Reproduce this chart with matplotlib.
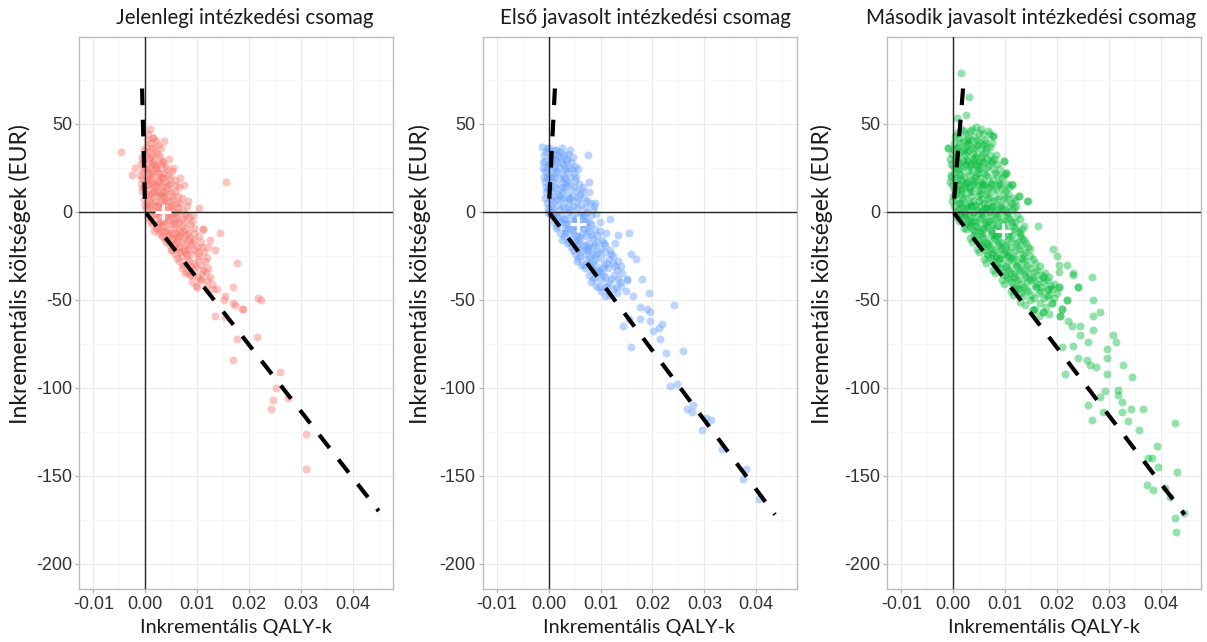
import matplotlib.pyplot as plt
from matplotlib.ticker import MultipleLocator

plt.rcParams["font.family"] = ["Liberation Sans", "DejaVu Sans"]
plt.rcParams["axes.unicode_minus"] = False

# --- data ---------------------------------------------------------------
titles = ["Jelenlegi intézkedési csomag",
          "Első javasolt intézkedési csomag",
          "Második javasolt intézkedési csomag"]
xlabel = "Inkrementális QALY-k"
ylabel = "Inkrementális költségek (EUR)"
colors = ["#F8766D", "#619CFF", "#00BA38"]

# (incremental QALY, incremental cost) per simulation, panel 1
points_1 = [
    (0.0006, 44), (0.0015, 42), (0.0010, 47), (0.0037, 40), (0.0016, 42),
    (0.0002, 37), (0.0009, 39), (0.0016, 36), (0.0024, 38), (-0.0003, 35), (0.0030, 36),
    (-0.0007, 31), (0.0000, 33), (0.0008, 30), (0.0014, 32), (0.0021, 34), (0.0028, 31),
    (0.0033, 29), (0.0045, 30),
    (-0.0009, 27), (-0.0002, 25), (0.0005, 28), (0.0011, 26), (0.0017, 29), (0.0023, 25),
    (0.0030, 27), (0.0038, 26), (0.0054, 25),
    (-0.0010, 21), (-0.0004, 23), (0.0003, 20), (0.0010, 24), (0.0016, 21), (0.0022, 23),
    (0.0029, 20), (0.0036, 22), (0.0044, 21), (0.0051, 23), (-0.0026, 21), (-0.0019, 25),
    (-0.0008, 16), (-0.0001, 18), (0.0006, 15), (0.0012, 19), (0.0019, 16), (0.0026, 18),
    (0.0033, 15), (0.0040, 17), (0.0048, 16), (0.0057, 18), (0.0067, 19),
    (-0.0006, 12), (0.0001, 10), (0.0008, 13), (0.0015, 11), (0.0021, 14), (0.0028, 10),
    (0.0035, 12), (0.0042, 13), (0.0050, 11), (0.0058, 12), (0.0066, 14), (0.0074, 15),
    (-0.0003, 7), (0.0004, 5), (0.0011, 8), (0.0018, 6), (0.0025, 9), (0.0032, 5),
    (0.0039, 8), (0.0046, 6), (0.0053, 7), (0.0061, 5), (0.0070, 8), (0.0083, 6),
    (0.0001, 2), (0.0008, 4), (0.0015, 1), (0.0022, 3), (0.0029, 0), (0.0036, 4),
    (0.0043, 1), (0.0050, 3), (0.0057, 0), (0.0064, 2), (0.0072, 1), (0.0080, 3), (0.0103, 2),
    (0.0006, -3), (0.0013, -1), (0.0020, -4), (0.0027, -2), (0.0034, -5), (0.0041, -1),
    (0.0048, -3), (0.0055, -5), (0.0062, -2), (0.0070, -4), (0.0078, -1), (0.0085, -3), (0.0093, -2),
    (0.0014, -7), (0.0021, -9), (0.0028, -6), (0.0035, -8), (0.0042, -10), (0.0049, -7),
    (0.0056, -9), (0.0063, -6), (0.0070, -8), (0.0078, -10), (0.0086, -7), (0.0094, -9), (0.0112, -10),
    (0.0026, -12), (0.0033, -14), (0.0039, -11), (0.0046, -13), (0.0052, -15), (0.0058, -12),
    (0.0065, -14), (0.0072, -11), (0.0079, -13), (0.0087, -15), (0.0095, -12), (0.0103, -14), (0.0144, -12),
    (0.0040, -17), (0.0047, -19), (0.0053, -16), (0.0059, -18), (0.0065, -20), (0.0071, -17),
    (0.0077, -19), (0.0084, -16), (0.0091, -18), (0.0099, -20), (0.0108, -17), (0.0125, -16), (0.0122, -20),
    (0.0052, -22), (0.0058, -24), (0.0064, -21), (0.0070, -25), (0.0076, -23), (0.0082, -21),
    (0.0089, -24), (0.0096, -22), (0.0104, -25), (0.0113, -23), (0.0135, -22),
    (0.0066, -28), (0.0073, -30), (0.0080, -27), (0.0087, -31), (0.0094, -29), (0.0101, -27),
    (0.0108, -30), (0.0116, -28), (0.0122, -32), (0.0176, -29),
    (0.0080, -34), (0.0087, -36), (0.0094, -33), (0.0101, -37), (0.0109, -35), (0.0117, -34), (0.0125, -37),
    (0.0090, -40), (0.0097, -42), (0.0107, -39), (0.0118, -43), (0.0128, -41), (0.0119, -39),
    (0.0099, -43), (0.0138, -44), (0.0170, -43),
    (0.0012, 22), (0.0024, 17), (0.0031, 9), (0.0019, 3), (0.0027, -7), (0.0008, 9),
    (0.0005, 18), (0.0040, -3), (0.0047, 2), (0.0033, 20), (0.0015, 27), (0.0044, -12),
    (0.0058, -7), (0.0062, -16), (0.0017, 12), (0.0026, 0), (0.0038, 11), (0.0052, -1),
    (0.0068, -12), (0.0075, -22),
    (0.0004, 41), (0.0020, 40), (0.0011, 36),
    (-0.0004, 29), (0.0004, 34), (0.0011, 31), (0.0018, 27), (0.0025, 33), (0.0035, 28),
    (-0.0006, 19), (0.0001, 24), (0.0007, 22), (0.0014, 17), (0.0020, 25), (0.0027, 22),
    (0.0034, 19), (0.0041, 24), (0.0047, 19),
    (-0.0004, 14), (0.0003, 16), (0.0010, 10), (0.0017, 15), (0.0023, 11), (0.0030, 14),
    (0.0037, 9), (0.0044, 15), (0.0051, 9), (0.0060, 15), (0.0063, 9),
    (-0.0001, 4), (0.0006, 1), (0.0012, 5), (0.0019, -1), (0.0026, 5), (0.0033, 2),
    (0.0040, 6), (0.0047, -1), (0.0054, 4), (0.0061, 0), (0.0068, 5), (0.0076, -2),
    (0.0010, -5), (0.0017, -11), (0.0024, -9), (0.0031, -11), (0.0037, -6), (0.0045, -5),
    (0.0051, -12), (0.0059, -4), (0.0066, -10), (0.0074, -6), (0.0082, -12), (0.0090, -5),
    (0.0036, -15), (0.0043, -16), (0.0049, -22), (0.0056, -19), (0.0062, -14), (0.0068, -23),
    (0.0074, -15), (0.0080, -24), (0.0087, -19), (0.0095, -16), (0.0101, -23), (0.0110, -20),
    (0.0062, -26), (0.0070, -32), (0.0077, -35), (0.0084, -28), (0.0091, -36), (0.0098, -31),
    (0.0105, -38), (0.0112, -33), (0.0120, -26),
    (-0.0047, 34), (0.0156, 17), (0.0112, -10), (0.0154, -48), (0.0173, -53), (0.0189, -55),
    (0.0218, -49), (0.0223, -50), (0.0186, -55), (0.0170, -52), (0.0151, -50), (0.0135, -59),
    (0.0154, -60), (0.0131, -44), (0.0176, -72), (0.0215, -71), (0.0170, -84), (0.0260, -91),
    (0.0253, -100), (0.0276, -106), (0.0247, -107), (0.0242, -112), (0.0310, -126), (0.0310, -146),
]

points_2 = [
    (-0.0006, 34), (0.0001, 36), (0.0008, 33), (0.0015, 35), (0.0022, 34), (0.0030, 32),
    (0.0038, 33), (0.0046, 31), (-0.0012, 37),
    (-0.0007, 29), (0.0000, 27), (0.0007, 30), (0.0014, 28), (0.0021, 31), (0.0028, 27),
    (0.0035, 29), (0.0043, 28), (0.0050, 26),
    (-0.0008, 23), (-0.0001, 21), (0.0006, 24), (0.0013, 22), (0.0020, 25), (0.0027, 21),
    (0.0034, 23), (0.0041, 20), (0.0049, 22), (0.0057, 24),
    (-0.0007, 17), (0.0000, 15), (0.0007, 18), (0.0014, 16), (0.0021, 19), (0.0028, 14),
    (0.0035, 17), (0.0042, 15), (0.0050, 18), (0.0058, 16), (0.0066, 14),
    (-0.0005, 11), (0.0002, 9), (0.0009, 12), (0.0016, 10), (0.0023, 13), (0.0030, 8),
    (0.0037, 11), (0.0044, 9), (0.0052, 12), (0.0060, 10), (0.0068, 8), (0.0078, 11),
    (-0.0003, 5), (0.0004, 3), (0.0011, 6), (0.0018, 4), (0.0025, 7), (0.0032, 2),
    (0.0039, 5), (0.0046, 3), (0.0054, 6), (0.0062, 4), (0.0070, 2), (0.0079, 5), (0.0087, 3),
    (0.0002, -1), (0.0009, 0), (0.0016, -3), (0.0023, -1), (0.0030, -4), (0.0037, 0),
    (0.0044, -2), (0.0051, -4), (0.0058, -1), (0.0066, -3), (0.0074, 0), (0.0082, -2), (0.0092, -1),
    (0.0010, -6), (0.0017, -8), (0.0024, -5), (0.0031, -9), (0.0038, -7), (0.0045, -10),
    (0.0052, -6), (0.0059, -8), (0.0066, -5), (0.0073, -9), (0.0081, -7), (0.0089, -10), (0.0098, -6),
    (0.0022, -12), (0.0029, -14), (0.0036, -11), (0.0043, -15), (0.0050, -13), (0.0057, -16),
    (0.0064, -12), (0.0071, -14), (0.0078, -11), (0.0086, -15), (0.0094, -13), (0.0102, -16), (0.0111, -12),
    (0.0036, -18), (0.0043, -20), (0.0050, -17), (0.0057, -21), (0.0064, -19), (0.0071, -22),
    (0.0078, -18), (0.0085, -20), (0.0093, -17), (0.0101, -21), (0.0109, -19), (0.0118, -22), (0.0127, -18),
    (0.0050, -24), (0.0057, -26), (0.0064, -23), (0.0071, -27), (0.0078, -25), (0.0085, -28),
    (0.0092, -24), (0.0100, -26), (0.0108, -23), (0.0116, -27), (0.0124, -25), (0.0133, -28),
    (0.0063, -30), (0.0070, -32), (0.0077, -29), (0.0084, -33), (0.0091, -31), (0.0099, -34),
    (0.0107, -30), (0.0115, -32), (0.0123, -29), (0.0131, -33), (0.0140, -31),
    (0.0078, -36), (0.0085, -38), (0.0093, -35), (0.0101, -39), (0.0109, -37), (0.0117, -40),
    (0.0125, -36), (0.0133, -38), (0.0142, -35), (0.0150, -39),
    (0.0092, -42), (0.0100, -45), (0.0108, -43), (0.0116, -47), (0.0124, -44), (0.0132, -46),
    (0.0140, -42), (0.0149, -45), (0.0108, -48),
    (0.0005, 20), (0.0011, 26), (0.0003, 13), (0.0017, 7), (0.0027, 17), (0.0009, -3),
    (0.0020, 1), (0.0034, -4), (0.0042, 8), (0.0048, -8), (0.0056, -14), (0.0062, -2),
    (0.0070, -19), (0.0083, -24), (0.0095, -33), (0.0013, 30), (-0.0004, 25), (-0.0002, 2),
    (0.0031, 25), (0.0072, -6),
    (-0.0009, 32), (-0.0003, 36), (0.0004, 31), (0.0011, 35), (0.0018, 32), (0.0025, 36),
    (0.0033, 30), (0.0041, 35), (-0.0010, 28),
    (-0.0010, 25), (-0.0004, 19), (0.0003, 27), (0.0010, 20), (0.0017, 23), (0.0024, 28),
    (0.0031, 19), (0.0038, 25), (0.0045, 24), (0.0053, 20), (-0.0009, 20), (-0.0006, 14),
    (-0.0008, 8), (-0.0002, 13), (0.0005, 7), (0.0012, 14), (0.0019, 9), (0.0026, 11),
    (0.0033, 15), (0.0040, 7), (0.0048, 14), (0.0056, 8), (0.0064, 12), (0.0073, 6),
    (-0.0001, 0), (0.0006, 2), (0.0013, -2), (0.0020, -6), (0.0027, 3), (0.0034, -7),
    (0.0041, 1), (0.0048, -5), (0.0055, 2), (0.0063, -7), (0.0070, -2), (0.0078, -6), (0.0086, 1),
    (0.0014, -9), (0.0025, -16), (0.0032, -12), (0.0040, -17), (0.0047, -11), (0.0054, -19),
    (0.0061, -15), (0.0068, -10), (0.0075, -20), (0.0082, -13), (0.0090, -19), (0.0098, -11),
    (0.0106, -18),
    (0.0046, -22), (0.0054, -28), (0.0061, -25), (0.0068, -30), (0.0075, -22), (0.0082, -31),
    (0.0089, -27), (0.0096, -23), (0.0104, -32), (0.0112, -29), (0.0120, -24), (0.0128, -31),
    (0.0081, -40), (0.0089, -37), (0.0097, -43), (0.0105, -36), (0.0113, -42), (0.0121, -38),
    (0.0129, -43), (0.0137, -40),
    (0.0076, 32), (0.0078, 17), (0.0090, 5), (0.0118, -4), (0.0155, -12), (0.0134, -13),
    (0.0159, -24), (0.0169, -27), (0.0179, -38), (0.0151, -38), (0.0194, -46), (0.0163, -48),
    (0.0242, -53), (0.0176, -54), (0.0189, -55), (0.0195, -57), (0.0175, -61), (0.0154, -61),
    (0.0144, -65), (0.0195, -62), (0.0218, -64), (0.0213, -66), (0.0201, -68), (0.0215, -72),
    (0.0159, -77), (0.0226, -80), (0.0259, -79), (0.0234, -99), (0.0247, -98), (0.0266, -112),
    (0.0279, -110), (0.0276, -114), (0.0295, -124), (0.0312, -118), (0.0304, -117),
    (0.0333, -135), (0.0381, -146), (0.0374, -152), (0.0405, -163),
]

points_3 = [
    (0.0008, 45), (0.0016, 47), (0.0024, 44), (0.0032, 46), (0.0040, 43), (0.0049, 45),
    (0.0058, 44), (0.0067, 46), (0.0076, 43), (0.0012, 42), (0.0044, 48),
    (0.0002, 39), (0.0010, 37), (0.0018, 40), (0.0026, 38), (0.0034, 41), (0.0042, 37),
    (0.0050, 40), (0.0058, 38), (0.0066, 36), (0.0074, 39), (-0.0010, 36),
    (-0.0002, 33), (0.0006, 31), (0.0014, 34), (0.0022, 32), (0.0030, 35), (0.0038, 30),
    (0.0046, 33), (0.0054, 31), (0.0062, 34), (0.0070, 32), (0.0079, 30), (0.0098, 29),
    (-0.0004, 27), (0.0004, 25), (0.0012, 28), (0.0020, 26), (0.0028, 29), (0.0036, 24),
    (0.0044, 27), (0.0052, 25), (0.0060, 28), (0.0068, 26), (0.0076, 24), (0.0085, 27),
    (-0.0004, 21), (0.0004, 19), (0.0012, 22), (0.0020, 20), (0.0028, 23), (0.0036, 18),
    (0.0044, 21), (0.0052, 19), (0.0060, 22), (0.0068, 20), (0.0076, 18), (0.0085, 21),
    (0.0094, 19), (0.0102, 22),
    (-0.0003, 15), (0.0005, 13), (0.0013, 16), (0.0021, 14), (0.0029, 17), (0.0037, 12),
    (0.0045, 15), (0.0053, 13), (0.0061, 16), (0.0069, 14), (0.0077, 12), (0.0086, 15),
    (0.0095, 13), (0.0104, 16), (0.0113, 15),
    (-0.0001, 9), (0.0007, 7), (0.0015, 10), (0.0023, 8), (0.0031, 11), (0.0039, 6),
    (0.0047, 9), (0.0055, 7), (0.0063, 10), (0.0071, 8), (0.0079, 6), (0.0088, 9),
    (0.0097, 7), (0.0106, 10), (0.0115, 8), (0.0126, 9),
    (0.0001, 3), (0.0009, 1), (0.0017, 4), (0.0025, 2), (0.0033, 5), (0.0041, 0),
    (0.0049, 3), (0.0057, 1), (0.0065, 4), (0.0073, 2), (0.0081, 0), (0.0090, 3),
    (0.0099, 1), (0.0108, 4), (0.0117, 2), (0.0144, 6),
    (0.0008, -3), (0.0016, -1), (0.0024, -4), (0.0032, -2), (0.0040, -5), (0.0048, -1),
    (0.0056, -3), (0.0064, -6), (0.0072, -2), (0.0080, -4), (0.0088, -1), (0.0096, -5),
    (0.0105, -3), (0.0114, -6), (0.0123, -2),
    (0.0020, -9), (0.0028, -7), (0.0036, -10), (0.0044, -8), (0.0052, -11), (0.0060, -7),
    (0.0068, -9), (0.0076, -12), (0.0084, -8), (0.0092, -10), (0.0101, -7), (0.0110, -11),
    (0.0119, -9), (0.0128, -12), (0.0137, -8), (0.0164, -8),
    (0.0032, -15), (0.0040, -13), (0.0048, -16), (0.0056, -14), (0.0064, -17), (0.0072, -13),
    (0.0080, -15), (0.0088, -18), (0.0096, -14), (0.0105, -16), (0.0114, -13), (0.0123, -17),
    (0.0132, -15), (0.0141, -18),
    (0.0046, -21), (0.0054, -19), (0.0062, -22), (0.0070, -20), (0.0078, -23), (0.0086, -19),
    (0.0094, -21), (0.0103, -24), (0.0112, -20), (0.0121, -22), (0.0130, -19), (0.0139, -23),
    (0.0148, -21), (0.0193, -21),
    (0.0060, -27), (0.0068, -25), (0.0076, -28), (0.0085, -26), (0.0094, -29), (0.0103, -25),
    (0.0112, -27), (0.0121, -30), (0.0130, -26), (0.0139, -28), (0.0148, -25), (0.0158, -29),
    (0.0201, -25),
    (0.0076, -33), (0.0085, -31), (0.0094, -34), (0.0103, -32), (0.0112, -35), (0.0121, -31),
    (0.0130, -33), (0.0139, -36), (0.0148, -32), (0.0157, -34), (0.0167, -31), (0.0177, -35),
    (0.0203, -34), (0.0219, -30),
    (0.0094, -39), (0.0103, -37), (0.0112, -40), (0.0121, -38), (0.0130, -41), (0.0139, -37),
    (0.0148, -39), (0.0157, -42), (0.0166, -38), (0.0175, -40), (0.0184, -37), (0.0194, -41),
    (0.0203, -43), (0.0231, -35),
    (0.0112, -45), (0.0121, -43), (0.0130, -46), (0.0140, -44), (0.0150, -47), (0.0160, -43),
    (0.0170, -45), (0.0180, -48), (0.0190, -44), (0.0200, -46), (0.0241, -43), (0.0183, -44),
    (0.0128, -51), (0.0138, -53), (0.0148, -50), (0.0158, -55), (0.0168, -52), (0.0178, -54),
    (0.0190, -52), (0.0154, -56), (0.0174, -57), (0.0219, -50),
    (0.0165, -59), (0.0185, -58), (0.0206, -59), (0.0209, -55),
    (0.0003, 30), (0.0009, 24), (0.0015, 18), (0.0019, 35), (0.0025, 27), (0.0031, 14),
    (0.0007, 11), (0.0013, 5), (0.0022, -2), (0.0035, -6), (0.0043, 20), (0.0049, 6),
    (0.0058, -10), (0.0066, -18), (0.0074, -24), (0.0027, 40), (0.0039, 33), (0.0047, 24),
    (0.0055, 16), (0.0063, 2), (0.0016, 13), (0.0034, 3), (0.0011, -1), (0.0071, -5),
    (0.0082, -14), (0.0091, -26), (0.0101, -31), (0.0118, -35),
    (0.0004, 43), (0.0020, 46), (0.0028, 42), (0.0036, 47), (0.0045, 41), (0.0053, 47),
    (0.0062, 41), (0.0071, 44), (0.0006, 36), (0.0014, 39), (0.0022, 36), (0.0030, 39),
    (0.0038, 36), (0.0046, 38), (0.0054, 36), (0.0062, 39), (0.0070, 37),
    (-0.0006, 30), (0.0002, 35), (0.0010, 32), (0.0018, 29), (0.0026, 34), (0.0034, 27),
    (0.0042, 31), (0.0050, 28), (0.0058, 33), (0.0066, 30), (0.0074, 28), (0.0082, 32),
    (0.0000, 26), (0.0008, 28), (0.0016, 25), (0.0024, 30), (0.0032, 26), (0.0040, 29),
    (0.0048, 26), (0.0056, 29), (0.0064, 25), (0.0072, 29), (0.0090, 24),
    (-0.0006, 17), (0.0002, 22), (0.0008, 18), (0.0016, 21), (0.0024, 17), (0.0032, 21),
    (0.0040, 16), (0.0048, 22), (0.0056, 17), (0.0064, 21), (0.0072, 16), (0.0080, 22),
    (0.0089, 17), (0.0098, 21), (0.0001, 13), (0.0009, 15), (0.0017, 12), (0.0025, 16),
    (0.0033, 13), (0.0041, 17), (0.0049, 12), (0.0057, 15), (0.0065, 12), (0.0073, 16),
    (0.0082, 13), (0.0091, 16), (0.0100, 12), (0.0108, 14),
    (-0.0003, 6), (0.0003, 10), (0.0011, 5), (0.0019, 8), (0.0027, 4), (0.0035, 9),
    (0.0043, 4), (0.0051, 10), (0.0059, 5), (0.0067, 8), (0.0075, 3), (0.0084, 7),
    (0.0093, 4), (0.0102, 8), (0.0111, 5), (0.0120, 6), (0.0005, 0), (0.0013, 2),
    (0.0021, 0), (0.0029, 1), (0.0037, 3), (0.0045, 1), (0.0053, 0), (0.0061, 2),
    (0.0069, 0), (0.0077, 3), (0.0086, 1), (0.0095, 2), (0.0104, 0), (0.0113, 1), (0.0122, 3),
    (0.0012, -5), (0.0020, -3), (0.0028, -6), (0.0036, -3), (0.0044, -6), (0.0052, -4),
    (0.0060, -2), (0.0068, -5), (0.0076, -7), (0.0084, -3), (0.0092, -6), (0.0101, -2),
    (0.0110, -4), (0.0119, -6), (0.0128, -4), (0.0024, -10), (0.0032, -8), (0.0040, -11),
    (0.0048, -9), (0.0056, -12), (0.0064, -8), (0.0072, -11), (0.0080, -9), (0.0088, -12),
    (0.0097, -9), (0.0106, -12), (0.0115, -8), (0.0124, -11), (0.0133, -10),
    (0.0036, -17), (0.0044, -14), (0.0052, -18), (0.0060, -15), (0.0068, -19), (0.0076, -16),
    (0.0084, -13), (0.0092, -17), (0.0101, -19), (0.0110, -15), (0.0119, -18), (0.0128, -14),
    (0.0137, -16), (0.0050, -23), (0.0058, -20), (0.0066, -24), (0.0074, -21), (0.0082, -25),
    (0.0090, -22), (0.0099, -20), (0.0108, -23), (0.0117, -25), (0.0126, -21), (0.0135, -24),
    (0.0144, -20), (0.0064, -29), (0.0072, -26), (0.0080, -30), (0.0089, -27), (0.0098, -24),
    (0.0107, -28), (0.0116, -26), (0.0125, -29), (0.0134, -27), (0.0143, -30), (0.0153, -27),
    (0.0080, -35), (0.0090, -32), (0.0099, -36), (0.0108, -33), (0.0117, -37), (0.0126, -34),
    (0.0135, -32), (0.0144, -35), (0.0153, -37), (0.0162, -33), (0.0172, -36), (0.0098, -41),
    (0.0107, -38), (0.0116, -42), (0.0125, -39), (0.0134, -43), (0.0143, -40), (0.0152, -38),
    (0.0161, -41), (0.0170, -43), (0.0180, -39), (0.0189, -42), (0.0116, -47), (0.0126, -44),
    (0.0135, -48), (0.0145, -45), (0.0155, -49), (0.0165, -46), (0.0175, -49), (0.0185, -47),
    (0.0195, -49),
    (0.0015, 79), (0.0030, 65), (0.0025, 55), (0.0007, 53), (-0.0010, 36), (0.0076, 43),
    (-0.0004, 20), (0.0098, 29), (0.0101, 22), (0.0113, 16), (0.0126, 9), (0.0143, 6),
    (0.0267, -37), (0.0270, -50), (0.0283, -57), (0.0270, -59), (0.0231, -36), (0.0241, -43),
    (0.0219, -50), (0.0203, -30), (0.0209, -55), (0.0206, -59), (0.0222, -62), (0.0228, -65),
    (0.0244, -65), (0.0270, -67), (0.0244, -70), (0.0260, -74), (0.0231, -76), (0.0209, -77),
    (0.0241, -83), (0.0263, -87), (0.0257, -84), (0.0276, -88), (0.0215, -92), (0.0296, -78),
    (0.0297, -83), (0.0296, -92), (0.0308, -70), (0.0314, -74), (0.0328, -87), (0.0345, -94),
    (0.0292, -102), (0.0283, -105), (0.0318, -101), (0.0318, -104), (0.0326, -108),
    (0.0260, -110), (0.0267, -118), (0.0289, -114), (0.0325, -114), (0.0342, -112),
    (0.0365, -112), (0.0337, -119), (0.0358, -124), (0.0427, -120), (0.0393, -133),
    (0.0376, -140), (0.0384, -140), (0.0394, -145), (0.0432, -148), (0.0374, -155),
    (0.0385, -158), (0.0408, -157), (0.0417, -162), (0.0445, -171), (0.0427, -174),
    (0.0429, -182), (0.0119, -44), (0.0154, -56), (0.0174, -57), (0.0190, -52),
    (0.0183, -44), (0.0203, -43), (0.0174, -37),
]

# mean (white cross) per panel
means = [(0.0035, 0), (0.0056, -7), (0.0096, -11)]
# dashed threshold line: upper end, origin, lower end
dash_x = [[-0.0006, 0.0, 0.0450], [0.0012, 0.0, 0.0436], [0.0019, 0.0, 0.0446]]
dash_y = [[70, 0, -170], [70, 0, -172], [70, 0, -172]]

# --- figure ----------------------------------------------------------------
fig = plt.figure(figsize=(12.07, 6.42), dpi=100)
fig.patch.set_facecolor("white")

lefts = [79, 482.5, 887]
ax_w, ax_bottom, ax_h = 314, 1 - 589 / 642, (589 - 37) / 642
label_x = [20, 420, 822]
title_x = [245, 645, 1031]
text_font = ["Lato", "DejaVu Sans"]

for i, pts in enumerate([points_1, points_2, points_3]):
    ax = fig.add_axes([lefts[i] / 1207, ax_bottom, ax_w / 1207, ax_h])
    qaly = [p[0] for p in pts]
    cost = [p[1] for p in pts]

    ax.set_xlim(-0.01275, 0.04775)
    ax.set_ylim(-214.25, 99.25)
    ax.xaxis.set_minor_locator(MultipleLocator(0.005))
    ax.yaxis.set_minor_locator(MultipleLocator(25))
    ax.set_xticks([-0.01, 0, 0.01, 0.02, 0.03, 0.04])
    ax.set_xticklabels(["-0.01", "0.00", "0.01", "0.02", "0.03", "0.04"])
    ax.set_yticks([-200, -150, -100, -50, 0, 50])
    ax.set_yticklabels(["-200", "-150", "-100", "-50", "0", "50"])

    ax.grid(which="major", color="#EBEBEB", lw=0.8)
    ax.grid(which="minor", color="#F6F6F6", lw=0.6)
    ax.set_axisbelow(True)
    for s in ax.spines.values():
        s.set_color("#BDBDBD")
        s.set_linewidth(1.0)
    ax.tick_params(which="major", length=3, width=0.9, color="#B3B3B3",
                   labelsize=13, labelcolor="#333333", pad=2)
    ax.tick_params(which="minor", length=0)

    ax.scatter(qaly, cost, s=33, color=colors[i], alpha=0.42, linewidths=0, zorder=2)
    ax.axhline(0, color="#222222", lw=1.0, zorder=3)
    ax.axvline(0, color="#222222", lw=1.0, zorder=3)
    ax.plot(dash_x[i], dash_y[i], color="black", lw=3.0, ls=(0, (4, 3.5)),
            dash_capstyle="butt", zorder=4)
    ax.plot(*means[i], marker="+", color="white", ms=12, mew=2.2, zorder=5)

    cx = (lefts[i] + ax_w / 2) / 1207
    fig.text(title_x[i] / 1207, 1 - 18 / 642, titles[i], ha="center", va="center",
             family=text_font, fontsize=14.8, color="#1A1A1A")
    fig.text(cx, 1 - 628 / 642, xlabel, ha="center", va="center",
             family=text_font, fontsize=14.3, color="#1A1A1A")
    fig.text(label_x[i] / 1207, 1 - 274 / 642, ylabel, ha="center", va="center",
             rotation=90, family=text_font, fontsize=16.5, color="#1A1A1A")

fig.savefig("out.png", dpi=100, facecolor="white")
